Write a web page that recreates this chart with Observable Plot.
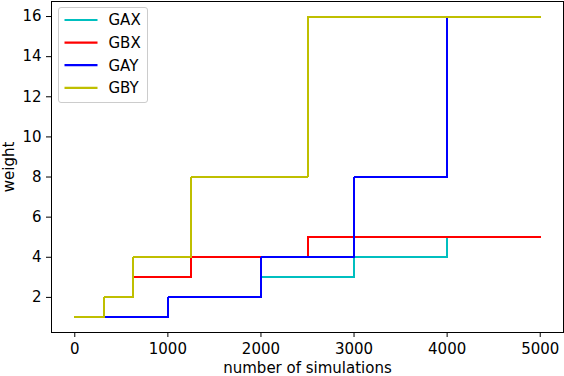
<!DOCTYPE html>
<html>
<head>
<meta charset="utf-8">
<script src="https://cdn.jsdelivr.net/npm/d3@7"></script>
<script src="https://cdn.jsdelivr.net/npm/@observablehq/plot@0.6"></script>
<style>
  html, body { margin: 0; padding: 0; background: white; }
  #chart { position: relative; width: 564px; height: 376px; }
  #chart svg g[aria-label="line"] path { mix-blend-mode: normal; shape-rendering: crispEdges; }
</style>
</head>
<body>
<div id="chart"></div>
<script>
// ---- data ----
const seriesNames = ["GAX", "GBX", "GAY", "GBY"];
const seriesColors = ["#00bfbf", "#ff0000", "#0000ff", "#bfbf00"];
const simsA = [0, 1000, 2000, 3000, 4000, 5000];
const simsB = [0, 312.5, 625, 1250, 2500, 5000];
const gax = [1, 2, 3, 4, 5, 5];
const gbx = [1, 2, 3, 4, 5, 5];
const gay = [1, 2, 4, 8, 16, 16];
const gby = [1, 2, 4, 8, 16, 16];
const xTicks = [0, 1000, 2000, 3000, 4000, 5000];
const yTicks = [2, 4, 6, 8, 10, 12, 14, 16];

const seriesData = [
  {name: "GAX", x: simsA, y: gax},
  {name: "GBX", x: simsB, y: gbx},
  {name: "GAY", x: simsA, y: gay},
  {name: "GBY", x: simsB, y: gby}
];
const rows = s => s.x.map((x, i) => ({series: s.name, sims: x, weight: s.y[i]}));

const font = "DejaVu Sans, sans-serif";
const plot = Plot.plot({
  width: 564,
  height: 376,
  marginLeft: 51,
  marginRight: 1,
  marginTop: 1,
  marginBottom: 44,
  style: {fontFamily: font, fontSize: "15px", background: "white", color: "black"},
  x: {domain: [-250, 5250]},
  y: {domain: [0.25, 16.75]},
  color: {domain: seriesNames, range: seriesColors},
  marks: [
    ...seriesData.map(s => Plot.line(rows(s), {
      x: "sims", y: "weight", stroke: "series", curve: "step-after",
      strokeWidth: 2, strokeLinecap: "square", strokeLinejoin: "miter"
    })),
    Plot.frame({stroke: "black", strokeWidth: 1}),
    Plot.axisX({
      ticks: xTicks, tickFormat: d3.format("d"), tickSize: 5, tickPadding: 6,
      label: "number of simulations", labelAnchor: "center", labelArrow: "none", labelOffset: 40
    }),
    Plot.axisY({
      ticks: yTicks, tickFormat: d3.format("d"), tickSize: 5, tickPadding: 5,
      label: "weight", labelAnchor: "center", labelArrow: "none", labelOffset: 48
    })
  ]
});
document.getElementById("chart").appendChild(plot);

// ---- legend (inside the axes, upper left) ----
const svg = d3.select(plot);
const color = plot.scale("color");
const lg = svg.append("g").attr("transform", "translate(58.5,7.5)");
lg.append("rect")
  .attr("width", 89).attr("height", 95).attr("rx", 2.5)
  .attr("fill", "white").attr("fill-opacity", 0.8)
  .attr("stroke", "#cccccc").attr("stroke-width", 1);
seriesNames.forEach((n, i) => {
  const cy = 12.5 + i * 22.6;
  lg.append("line")
    .attr("x1", 6).attr("x2", 39).attr("y1", cy).attr("y2", cy)
    .attr("stroke", color.apply(n)).attr("stroke-width", 2.2);
  lg.append("text")
    .attr("x", 50).attr("y", cy).attr("dy", "0.36em")
    .attr("text-anchor", "start")
    .attr("font-family", font).attr("font-size", 15)
    .attr("fill", "black").text(n);
});
</script>
</body>
</html>
